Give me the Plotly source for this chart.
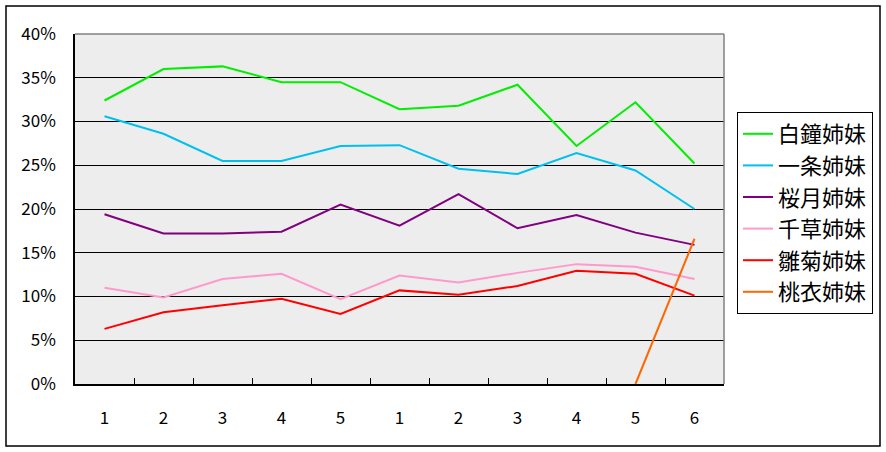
import plotly.graph_objects as go

x_labels = ["1", "2", "3", "4", "5", "1", "2", "3", "4", "5", "6"]

hakusho = [32.4, 36.0, 36.3, 34.5, 34.5, 31.4, 31.8, 34.2, 27.2, 32.2, 25.2]
ichijo = [30.6, 28.6, 25.5, 25.5, 27.2, 27.3, 24.6, 24.0, 26.4, 24.4, 20.0]
sakuragi = [19.4, 17.2, 17.2, 17.4, 20.5, 18.1, 21.7, 17.8, 19.3, 17.3, 15.9]
chigusa = [11.0, 9.9, 12.0, 12.6, 9.7, 12.4, 11.6, 12.7, 13.7, 13.4, 12.0]
hinagiku = [6.3, 8.2, 9.0, 9.75, 8.0, 10.7, 10.2, 11.2, 12.95, 12.6, 10.1]
momoi = [None, None, None, None, None, None, None, None, None, 0.0, 16.6]

series = [
    ("白鐘姉妹", hakusho, "#00ee00"),
    ("一条姉妹", ichijo, "#00c0f0"),
    ("桜月姉妹", sakuragi, "#800080"),
    ("千草姉妹", chigusa, "#ff99cc"),
    ("雛菊姉妹", hinagiku, "#ff0000"),
    ("桃衣姉妹", momoi, "#ff6600"),
]

y_ticks = [0, 5, 10, 15, 20, 25, 30, 35, 40]
y_tick_labels = [f"{v}%" for v in y_ticks]

xs = list(range(len(x_labels)))
FONT = "Noto Sans CJK JP, Liberation Sans, sans-serif"

fig = go.Figure()
for i, (name, vals, color) in enumerate(series):
    fig.add_trace(go.Scatter(
        x=xs, y=vals, name=name, mode="lines",
        line=dict(color=color, width=2),
        connectgaps=False,
        legendgroup=f"g{i}",
    ))

fig.update_layout(
    width=886, height=452,
    margin=dict(l=75, r=162, t=34, b=68),
    paper_bgcolor="white",
    plot_bgcolor="#ededed",
    font=dict(family=FONT, color="black", size=16),
    showlegend=True,
    legend=dict(
        x=(737 - 75) / 649, y=(384 - 112) / 350, xanchor="left", yanchor="top",
        bgcolor="white", bordercolor="black", borderwidth=1,
        font=dict(size=22, family=FONT),
        itemwidth=30,
        tracegroupgap=0,
    ),
    xaxis=dict(
        range=[-0.5, len(x_labels) - 0.5],
        tickmode="array", tickvals=xs, ticktext=x_labels,
        ticks="", showgrid=False, zeroline=False,
        showline=True, linecolor="black", linewidth=1.5,
        tickfont=dict(size=17, family=FONT),
        ticklabelstandoff=18,
        minor=dict(
            tickmode="array",
            tickvals=[i + 0.5 for i in range(len(x_labels) - 1)],
            ticks="inside", ticklen=6, tickcolor="black", tickwidth=1,
            showgrid=False,
        ),
        fixedrange=True,
    ),
    yaxis=dict(
        range=[0, 40],
        tickmode="array", tickvals=y_ticks, ticktext=y_tick_labels,
        ticks="", showgrid=True, gridcolor="black", gridwidth=1,
        zeroline=False,
        showline=True, linecolor="black", linewidth=1.5,
        tickfont=dict(size=17, family=FONT),
        ticklabelstandoff=14,
        fixedrange=True,
    ),
)

# plot-area border: gray top and right
fig.add_shape(type="line", xref="paper", yref="paper", x0=0, x1=1, y0=1, y1=1,
              line=dict(color="#808080", width=1.5), layer="above")
fig.add_shape(type="line", xref="paper", yref="paper", x0=1, x1=1, y0=0, y1=1,
              line=dict(color="#808080", width=1.5), layer="above")

# outer chart border
pw, ph = 886 - 75 - 162, 452 - 34 - 68
fig.add_shape(type="rect", xref="paper", yref="paper",
              x0=(6 - 75) / pw, x1=(880 - 75) / pw,
              y0=(384 - 446) / ph, y1=(384 - 6) / ph,
              line=dict(color="black", width=1.5), fillcolor="rgba(0,0,0,0)",
              layer="below")

fig.write_html("out.html", config={"displayModeBar": False})

# remove default page margin so the figure sits at the window origin
with open("out.html", "r", encoding="utf-8") as f:
    html = f.read()
html = html.replace("<head>", "<head><style>html,body{margin:0;padding:0;overflow:hidden;}</style>", 1)
with open("out.html", "w", encoding="utf-8") as f:
    f.write(html)
